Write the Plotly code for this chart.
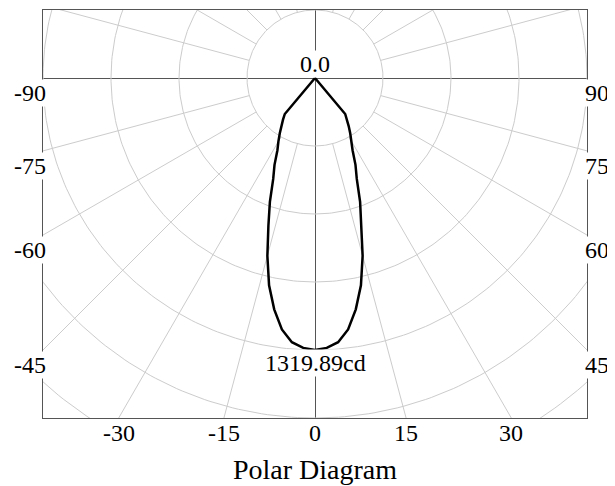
import numpy as np
import plotly.graph_objects as go

# ---- data (angles measured from nadir, positive to the right; intensity in cd) ----
ANGLES_DEG = [-90, -42.5, -40, -37.5, -35, -32.5, -30, -27.5, -25, -22.5, -20, -17.5,
              -15, -12.5, -10, -7.5, -5, -2.5, 0, 2.5, 5, 7.5, 10, 12.5, 15, 17.5,
              20, 22.5, 25, 27.5, 30, 32.5, 35, 37.5, 40, 42.5, 90]
INTENSITY_CD = [0, 0, 228, 255, 285, 318, 355, 395, 465, 530, 640, 752,
                893, 1030, 1140, 1231, 1287, 1311, 1319.89, 1311, 1287, 1231, 1140, 1030, 893, 752,
                640, 530, 465, 395, 355, 318, 285, 255, 228, 0, 0]

RING_VALUES = [330, 660, 990, 1320, 1650, 1980]
RAY_ANGLES = [15, 30, 45, 60, 75, 105, 120, 135, 150, 165,
              195, 210, 225, 240, 255, 285, 300, 315, 330, 345]
LABEL_ANGLES = [-90, -75, -60, -45, -30, -15, 0, 15, 30, 45, 60, 75, 90]
LABEL_TEXTS = ["-90", "-75", "-60", "-45", "-30", "-15", "0", "15", "30", "45", "60", "75", "90"]
CENTER_LABEL = "0.0"
MAX_LABEL = "1319.89cd"
TITLE = "Polar Diagram"

X_RANGE = [-1320, 1320]
Y_RANGE = [-1650, 330]

FONT = "Liberation Serif, Times New Roman, serif"
GRID = "#cccccc"
DARK = "#555555"


def to_xy(theta_deg, r):
    t = np.radians(np.asarray(theta_deg, dtype=float))
    r = np.asarray(r, dtype=float)
    return r * np.sin(t), -r * np.cos(t)


fig = go.Figure()

# rings
phi = np.linspace(0, 360, 361)
rx, ry = [], []
for v in RING_VALUES:
    x, y = to_xy(phi, np.full_like(phi, v))
    rx += list(x) + [None]
    ry += list(y) + [None]
fig.add_trace(go.Scatter(x=rx, y=ry, mode="lines", line=dict(color=GRID, width=1),
                         hoverinfo="skip", showlegend=False))

# rays
sx, sy = [], []
for a in RAY_ANGLES:
    x, y = to_xy([a, a], [RING_VALUES[0], 3000])
    sx += list(x) + [None]
    sy += list(y) + [None]
fig.add_trace(go.Scatter(x=sx, y=sy, mode="lines", line=dict(color=GRID, width=1),
                         hoverinfo="skip", showlegend=False))

# intensity curve
cx, cy = to_xy(ANGLES_DEG, INTENSITY_CD)
fig.add_trace(go.Scatter(x=cx, y=cy, mode="lines", line=dict(color="black", width=2.5),
                         hoverinfo="skip", showlegend=False))

annotations = []
for a, txt in zip(LABEL_ANGLES, LABEL_TEXTS):
    s, c = np.sin(np.radians(a)), np.cos(np.radians(a))
    ts = []
    if abs(s) > 1e-9:
        ts.append((X_RANGE[1] / abs(s), "side"))
    if c > 1e-9:
        ts.append((-Y_RANGE[0] / c, "bottom"))
    t, side = min(ts)
    px, py = t * s, -t * c
    xs, ys = 0, -1
    if side == "side":
        xa = "left" if s > 0 else "right"
        px = X_RANGE[1] if s > 0 else X_RANGE[0]
        xs = -3 if s > 0 else 4
    else:
        xa = "center"
        py = Y_RANGE[0]
    annotations.append(dict(x=px, y=py, text=txt, showarrow=False, xanchor=xa, yanchor="top",
                            xshift=xs, yshift=ys, bgcolor="white", borderpad=0,
                            font=dict(family=FONT, size=24, color="black")))

annotations.append(dict(x=0, y=0, text=CENTER_LABEL, showarrow=False, xanchor="center",
                        yanchor="bottom", bgcolor="white", borderpad=0,
                        font=dict(family=FONT, size=24, color="black")))
annotations.append(dict(x=0, y=-INTENSITY_CD[ANGLES_DEG.index(0)], text=MAX_LABEL, showarrow=False,
                        xanchor="center", yanchor="top", yshift=1, bgcolor="white", borderpad=0,
                        font=dict(family=FONT, size=24, color="black")))
annotations.append(dict(x=0.5, y=0, xref="paper", yref="paper", yshift=-51, text=TITLE,
                        showarrow=False, xanchor="center", yanchor="middle",
                        font=dict(family=FONT, size=28, color="black")))

axis_common = dict(showgrid=False, showticklabels=False, ticks="", showline=True, mirror=True,
                   linecolor=DARK, linewidth=1, zeroline=True, zerolinecolor=DARK,
                   zerolinewidth=1, fixedrange=True)

# the page body adds an 8px offset, so the figure is sized and margined to compensate
fig.update_layout(
    width=607, height=478,
    margin=dict(l=35, r=28, t=2, b=68),
    paper_bgcolor="white", plot_bgcolor="white",
    xaxis=dict(range=X_RANGE, **axis_common),
    yaxis=dict(range=Y_RANGE, **axis_common),
    annotations=annotations,
    hovermode=False,
    showlegend=False,
)

fig.write_html("out.html")
